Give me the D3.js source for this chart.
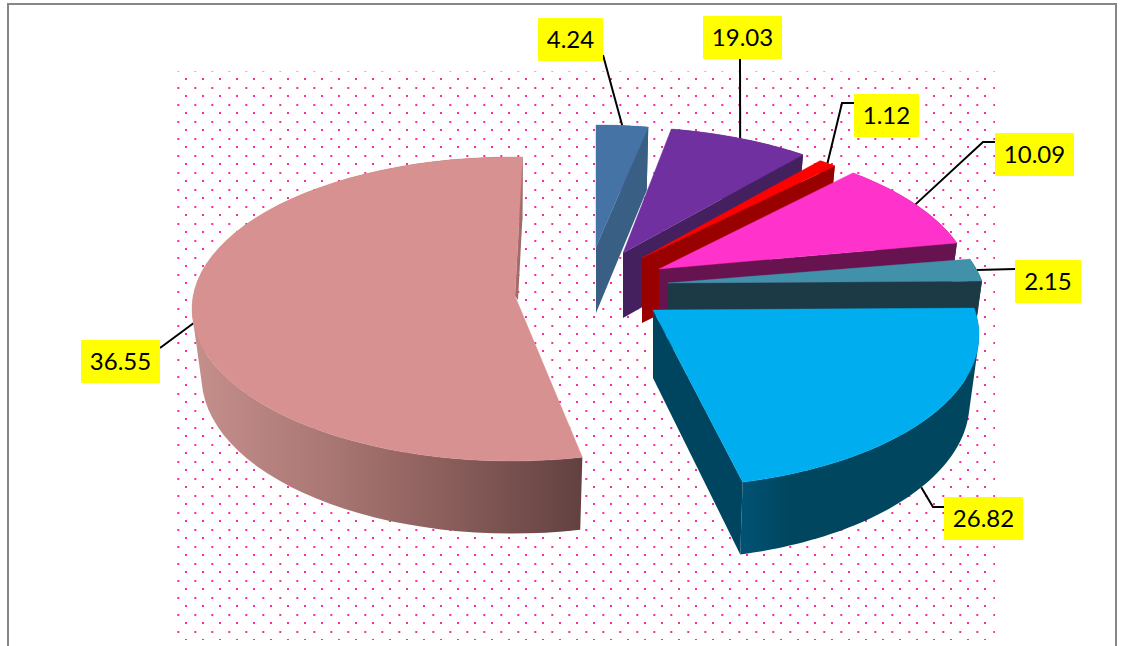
<!DOCTYPE html>
<html><head><meta charset="utf-8">
<script src="https://cdn.jsdelivr.net/npm/d3@7"></script>
<style>html,body{margin:0;padding:0;background:#fff;overflow:hidden}svg{display:block}</style>
</head><body><div id="chart"></div>
<script>
// ---- data ----
const sliceNames  = ["A","B","C","D","E","F","G"];
const sliceValues = [4.24,19.03,1.12,10.09,2.15,26.82,36.55];
const sliceLabels = ["4.24","19.03","1.12","10.09","2.15","26.82","36.55"];
const topColors   = ["#4573a6","#7030a0","#ff0000","#ff33cc","#4191ab","#00aeef","#d79190"];
const wallColors  = ["#3a5f85","#45205f","#990000","#66134f","#1c3a45","#00455f","#a26a68"];

// ---- view of the tilted, exploded pie ----
const W = 1126, H = 646;
const viewBoundaries = [0,9.4,35.1,38.4,71.2,79.8,165.4,360]; // perspective warp of the pie sweep, degrees
const pieCentre = {x:512, y:309}, rimRx = 320, rimRy = 152, thickness = 68;
const lowerX = 0.97, lowerY = 1.03;   // far face of the disc seen through the perspective
const rimScale = [1,1,1,1,1,0.9875,1];
const explodeX = [84,107,124,142,155,151,0];
const explodeY = [-32,-30,-24,-17,-1,26,0];
const hubX     = [0,4,6,5,1,-10,3];
const hubY     = [-30,-26,-27,-23,-25,-25,-13];
const hubDrop  = [66,65,65,66,66,68,4];
const cutShift = [0,0,0,0,0,0,3];
const twist    = [0,0,0,0,0,0,1.9];
const boxLeft  = [538,703,854,995,1015,944,81];
const boxTop   = [18,16,94,133,260,497,340];
const boxWidth = [65,79,65,79,66,79,79];
const boxHeight = 43;
const leaderBox   = [[603,55],[740,58],[854,103],[995,142],[1015,269],[944,507],[160,348]];
const leaderElbow = [null,null,[842,103],[983,142],null,[933,507],null];

const svg = d3.select("#chart").append("svg").attr("width",W).attr("height",H);
const defs = svg.append("defs");

// frame
svg.append("path").attr("d",`M8,${H}V4H1116V${H}`).attr("fill","none").attr("stroke","#868686").attr("stroke-width",2);

// dotted plot area
const pat = defs.append("pattern").attr("id","dots").attr("patternUnits","userSpaceOnUse")
  .attr("x",177).attr("y",70).attr("width",17).attr("height",17);
pat.append("rect").attr("x",8).attr("y",8).attr("width",2).attr("height",2).attr("fill","#ff2a9d");
pat.append("rect").attr("x",0.3).attr("y",0).attr("width",2).attr("height",2).attr("fill","#ff2a9d");
svg.append("rect").attr("x",177).attr("y",71.5).attr("width",818).attr("height",568.5).attr("fill","url(#dots)");

// gradients on the outer walls
const bigGrad = defs.append("linearGradient").attr("id","sideG").attr("gradientUnits","userSpaceOnUse")
  .attr("x1",197).attr("x2",582).attr("y1",0).attr("y2",0);
[[0,"#c48e8b"],[0.3,"#ad7a77"],[0.6,"#90625f"],[1,"#624140"]].forEach(s=>bigGrad.append("stop").attr("offset",s[0]).attr("stop-color",s[1]));
const cyGrad = defs.append("linearGradient").attr("id","sideF").attr("gradientUnits","userSpaceOnUse")
  .attr("x1",742).attr("x2",790).attr("y1",0).attr("y2",0);
[[0,"#005274"],[1,"#00465f"]].forEach(s=>cyGrad.append("stop").attr("offset",s[0]).attr("stop-color",s[1]));

// pie layout -> warped view angles
const arcs = d3.pie().sort(null).value(d=>d).startAngle(0).endAngle(2*Math.PI)(sliceValues);
const bounds = arcs.map(a=>a.startAngle).concat([2*Math.PI]);
const viewAngle = d3.scaleLinear().domain(bounds).range(viewBoundaries);
const rad = d=>d*Math.PI/180;

const slices = arcs.map((a,i)=>{
  const cx = pieCentre.x+explodeX[i], cy = pieCentre.y+explodeY[i], rx = rimRx*rimScale[i];
  const a0 = viewAngle(a.startAngle)+twist[i], a1 = viewAngle(a.endAngle)+twist[i];
  const top = t=>[cx+rx*Math.sin(rad(t)), cy-rimRy*Math.cos(rad(t))];
  const low = t=>[cx+rx*lowerX*Math.sin(rad(t)), cy+thickness-rimRy*lowerY*Math.cos(rad(t))];
  const ts = d3.range(0,61).map(k=>a0+(a1-a0)*k/60);
  const hub = [cx+hubX[i], cy+hubY[i]];
  return {i,a0,a1,top,low,ts,hub,mid:(a0+a1)/2};
});

const line = d3.line();
const closed = pts=>line(pts)+"Z";
// the outer wall is a union of thin quads, all wound the same way
const wallPath = s=>d3.pairs(s.ts).map(([t0,t1])=>{
  const q=[s.top(t0),s.top(t1),s.low(t1),s.low(t0)];
  return closed(d3.polygonArea(q)<0?q.reverse():q);
}).join("");

// leader lines sit under the disc, which hides their inner ends
svg.append("g").selectAll("path").data(slices).join("path")
  .attr("fill","none").attr("stroke","#000").attr("stroke-width",2)
  .attr("d",s=>{
    const c = Math.cos(rad(s.mid));
    const anchor = c<-0.3 ? s.low(s.mid) : s.top(s.mid);
    const pts=[leaderBox[s.i]];
    if(leaderElbow[s.i]) pts.push(leaderElbow[s.i]);
    pts.push(anchor);
    return line(pts);
  });

// slices, far to near
const g = svg.append("g").selectAll("g").data(slices).join("g");
g.append("path") // outer wall
  .attr("fill",s=>s.i===6?"url(#sideG)":s.i===5?"url(#sideF)":wallColors[s.i])
  .attr("d",wallPath);
g.append("path") // cut wall at the end of the sweep
  .attr("fill",s=>wallColors[s.i])
  .attr("d",s=>closed([s.hub,s.top(s.a1),s.low(s.a1),[s.hub[0]+cutShift[s.i],s.hub[1]+hubDrop[s.i]]]));
g.append("path") // top face
  .attr("fill",s=>topColors[s.i]).attr("stroke",s=>topColors[s.i]).attr("stroke-width",0.4)
  .attr("d",s=>closed([s.hub].concat(s.ts.map(s.top))));

// value labels
const lab = svg.append("g").selectAll("g").data(sliceLabels).join("g");
lab.append("rect").attr("x",(d,i)=>boxLeft[i]).attr("y",(d,i)=>boxTop[i])
  .attr("width",(d,i)=>boxWidth[i]).attr("height",boxHeight).attr("rx",1).attr("fill","#ffff00");
lab.append("text").attr("x",(d,i)=>boxLeft[i]+boxWidth[i]/2).attr("y",(d,i)=>boxTop[i]+boxHeight/2+8.5)
  .attr("text-anchor","middle").attr("font-family","Lato, sans-serif").attr("font-size",24)
  .attr("fill","#000").text(d=>d);
</script></body></html>
